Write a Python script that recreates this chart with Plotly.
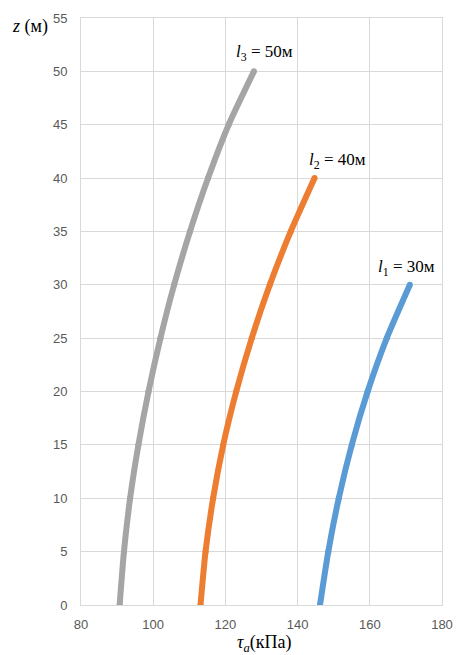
import plotly.graph_objects as go

# Depth z (m) and shear stress tau_a (kPa)
z1 = [0, 5, 10, 15, 20, 25, 30]
tau1 = [146.2, 148.5, 151.4, 155.0, 159.4, 164.7, 171.1]

z2 = [0, 5, 10, 15, 20, 25, 30, 35, 40]
tau2 = [113.1, 114.5, 116.6, 119.4, 123.0, 127.3, 132.3, 138.1, 144.7]

z3 = [0, 5, 10, 15, 20, 25, 30, 35, 40, 45, 50]
tau3 = [90.7, 91.9, 93.6, 95.9, 98.7, 102.0, 105.8, 110.2, 115.2, 120.9, 127.9]

x_ticks = [80, 100, 120, 140, 160, 180]
y_ticks = [0, 5, 10, 15, 20, 25, 30, 35, 40, 45, 50, 55]

labels = [
    ("<i>l</i><sub>1</sub> = 30м", 170.1, 31.6),
    ("<i>l</i><sub>2</sub> = 40м", 151.0, 41.6),
    ("<i>l</i><sub>3</sub> = 50м", 130.8, 51.7),
]

colors = ["#5B9BD5", "#ED7D31", "#A5A5A5"]

fig = go.Figure()
for (tx, zy), c in zip([(tau1, z1), (tau2, z2), (tau3, z3)], colors):
    fig.add_trace(go.Scatter(
        x=tx, y=zy, mode="lines+markers",
        line=dict(color=c, width=6, shape="spline", smoothing=0.6),
        marker=dict(color=c, size=6),
        showlegend=False, hoverinfo="skip",
    ))

serif = "Liberation Serif, Times New Roman, serif"
for txt, x, y in labels:
    fig.add_annotation(x=x, y=y, xref="x", yref="y", text=txt, showarrow=False,
                       font=dict(family=serif, size=17, color="#000000"))

fig.add_annotation(x=0.508, y=-0.066, xref="paper", yref="paper",
                   xanchor="center", yanchor="middle",
                   text="<i>τ<sub>a</sub></i>(кПа)",
                   showarrow=False, font=dict(family=serif, size=18, color="#000000"))
fig.add_annotation(x=-0.142, y=0.986, xref="paper", yref="paper",
                   xanchor="center", yanchor="middle",
                   text="<i>z</i> (м)",
                   showarrow=False, font=dict(family=serif, size=18, color="#000000"))

axis_common = dict(showgrid=True, gridcolor="#D9D9D9", gridwidth=1,
                   showline=True, linecolor="#D9D9D9", linewidth=1, mirror=True,
                   zeroline=False, ticks="outside", tickcolor="rgba(0,0,0,0)",
                   tickfont=dict(family="Liberation Sans, Arial, sans-serif", size=13, color="#595959"))

fig.update_xaxes(range=[80, 180], tickvals=x_ticks, ticklen=7, **axis_common)
fig.update_yaxes(range=[0, 55], tickvals=y_ticks, ticklen=10, **axis_common)

fig.update_layout(
    width=464, height=655,
    margin=dict(l=81, r=11, t=15, b=50),
    plot_bgcolor="#FFFFFF", paper_bgcolor="#FFFFFF",
)

fig.write_html("out.html")
